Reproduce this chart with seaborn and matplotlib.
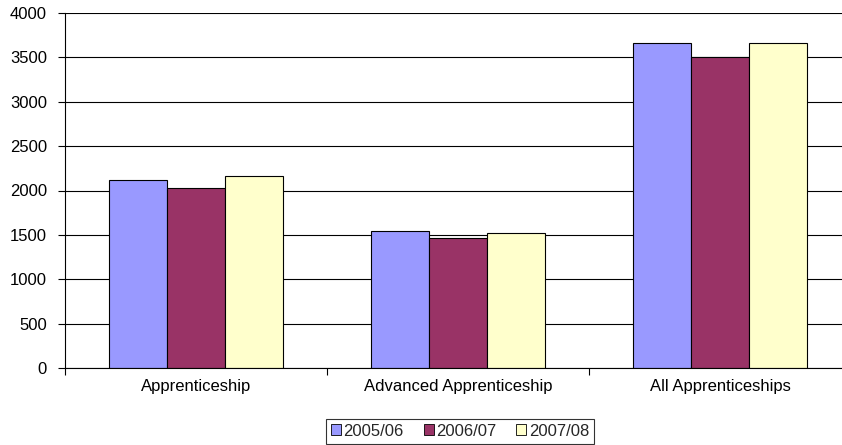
import matplotlib
matplotlib.use("Agg")
import matplotlib.pyplot as plt
import seaborn as sns
import pandas as pd
from matplotlib.ticker import FixedLocator

categories = ["Apprenticeship", "Advanced Apprenticeship", "All Apprenticeships"]
years = ["2005/06", "2006/07", "2007/08"]
v_2005 = [2118, 1547, 3658]
v_2006 = [2031, 1461, 3500]
v_2007 = [2163, 1524, 3665]
colors = ["#9999FF", "#993366", "#FFFFCC"]

rows = []
for yr, vals in zip(years, [v_2005, v_2006, v_2007]):
    for c, v in zip(categories, vals):
        rows.append({"category": c, "year": yr, "value": v})
df = pd.DataFrame(rows)

sns.set_theme(style="white")
plt.rcParams["font.family"] = ["Liberation Sans", "DejaVu Sans"]

FS = 12

fig = plt.figure(figsize=(8.42, 4.45), dpi=100)
ax = fig.add_axes([65/842, 1-368/445, (851-65)/842, (368-13)/445])

sns.barplot(data=df, x="category", y="value", hue="year", order=categories,
            hue_order=years, palette=colors, width=0.664, edgecolor="black",
            linewidth=0.8, saturation=1, ax=ax, legend=True)

ax.set_ylim(0, 4000)
ax.set_xlim(-0.5, 2.5)
ax.set_yticks(range(0, 4001, 500))
ax.yaxis.grid(True, color="#000000", linewidth=0.8)
ax.set_axisbelow(True)
ax.set_xlabel("")
ax.set_ylabel("")
for s in ["top", "right"]:
    ax.spines[s].set_visible(False)
for s in ["left", "bottom"]:
    ax.spines[s].set_color("black")
    ax.spines[s].set_linewidth(0.8)

ax.tick_params(axis="y", which="major", direction="out", length=5, width=0.8,
               color="black", labelsize=FS, labelcolor="black", left=True, pad=8)
ax.tick_params(axis="x", which="major", length=0, labelsize=FS, labelcolor="black", pad=8)
ax.xaxis.set_minor_locator(FixedLocator([-0.5, 0.5, 1.5, 2.5]))
ax.tick_params(axis="x", which="minor", direction="out", length=5, width=0.8,
               color="black", bottom=True)

leg = ax.legend(loc="center", bbox_to_anchor=(460/842, 1-431/445),
                bbox_transform=fig.transFigure, ncol=3, frameon=True,
                fontsize=FS, handlelength=0.6, handleheight=0.6,
                handletextpad=0.15, columnspacing=1.2, borderpad=0.3,
                borderaxespad=0, fancybox=False)
leg.get_frame().set_edgecolor("black")
leg.get_frame().set_linewidth(0.8)
for h in leg.legend_handles:
    h.set_edgecolor("black")
    h.set_linewidth(0.6)

fig.savefig("out.png", dpi=100)
